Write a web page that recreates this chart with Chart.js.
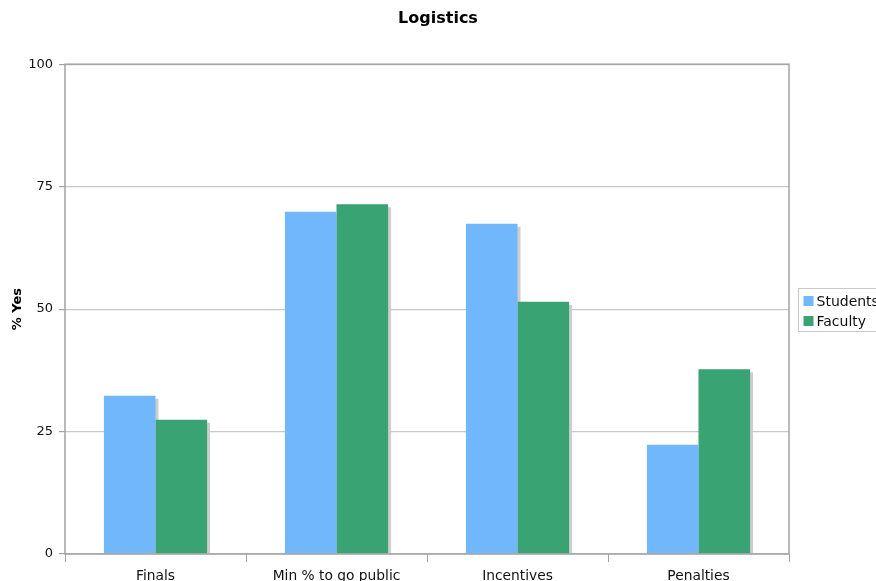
<!DOCTYPE html>
<html>
<head>
<meta charset="utf-8">
<title>Logistics</title>
<script src="https://cdn.jsdelivr.net/npm/chart.js@4/dist/chart.umd.min.js"></script>
<style>
  html, body { margin: 0; padding: 0; background: #fff; }
  #wrap { width: 876px; height: 581px; position: relative; }
</style>
</head>
<body>
<div id="wrap"><canvas id="myChart"></canvas></div>
<script>
// chart values
var categories = ['Finals', 'Min % to go public', 'Incentives', 'Penalties'];
var students = [32.3, 69.9, 67.4, 22.3];
var faculty = [27.4, 71.4, 51.5, 37.7];
var yTicks = [0, 25, 50, 75, 100];

var fontFamily = '"DejaVu Sans", Verdana, sans-serif';

// grey drop shadow behind every bar, drawn before the bars themselves
const barShadow = {
  id: 'barShadow',
  beforeDatasetsDraw(chart) {
    const ctx = chart.ctx;
    ctx.save();
    ctx.fillStyle = '#cdcdcd';
    chart.getSortedVisibleDatasetMetas().forEach(meta => {
      meta.data.forEach(bar => {
        const p = bar.getProps(['x', 'y', 'base', 'width'], true);
        const left = p.x - p.width / 2;
        ctx.fillRect(left + 3, p.y + 3, p.width, p.base - p.y - 3);
      });
    });
    ctx.restore();
  }
};

// frame round the plot and the boxed legend on the right
const frameAndLegend = {
  id: 'frameAndLegend',
  afterDraw(chart) {
    const ctx = chart.ctx;
    const a = chart.chartArea;
    ctx.save();
    ctx.strokeStyle = '#a3a3a3';
    ctx.lineWidth = 1.5;
    ctx.strokeRect(a.left, a.top, a.right - a.left, a.bottom - a.top);

    // legend
    const lx = 798.5, ly = 288.5;
    ctx.lineWidth = 1;
    ctx.strokeStyle = '#c8c8c8';
    ctx.strokeRect(lx, ly, 90, 43);
    ctx.font = '14px ' + fontFamily;
    ctx.textBaseline = 'middle';
    chart.data.datasets.forEach((ds, i) => {
      const y = ly + 12.5 + i * 20;
      ctx.fillStyle = ds.backgroundColor;
      ctx.fillRect(lx + 5, y - 5, 10, 10);
      ctx.fillStyle = '#111';
      ctx.fillText(ds.label, lx + 18, y + 1);
    });
    ctx.restore();
  }
};

const data = {
  labels: categories,
  datasets: [
    {
      label: 'Students',
      data: students,
      backgroundColor: '#70b8fb',
      borderWidth: 0
    },
    {
      label: 'Faculty',
      data: faculty,
      backgroundColor: '#3aa374',
      borderWidth: 0
    }
  ]
};

const config = {
  type: 'bar',
  data,
  options: {
    responsive: true,
    maintainAspectRatio: false,
    animation: false,
    layout: { padding: 0 },
    datasets: {
      bar: { categoryPercentage: 0.57, barPercentage: 1.0 }
    },
    plugins: {
      legend: { display: false },
      tooltip: { enabled: false },
      title: {
        display: true,
        text: 'Logistics',
        color: '#000',
        font: { family: fontFamily, size: 16, weight: 'bold' },
        padding: { top: 9, bottom: 36 }
      }
    },
    scales: {
      x: {
        offset: true,
        grid: {
          offset: true,
          drawOnChartArea: false,
          drawTicks: true,
          tickLength: 8,
          color: '#a3a3a3'
        },
        border: { display: false },
        ticks: {
          color: '#111',
          padding: 6,
          font: { family: fontFamily, size: 13.8 },
          maxRotation: 0
        },
        afterFit(scale) { scale.height = 27; }
      },
      y: {
        min: 0,
        max: 100,
        afterBuildTicks(scale) {
          scale.ticks = yTicks.map(v => ({ value: v }));
        },
        grid: {
          color: '#c8c8c8',
          lineWidth: 1.2,
          tickLength: 6,
          tickColor: '#a3a3a3'
        },
        border: { display: false },
        ticks: {
          color: '#111',
          padding: 6,
          font: { family: fontFamily, size: 13 }
        },
        title: {
          display: true,
          text: '% Yes',
          color: '#000',
          font: { family: fontFamily, size: 13, weight: 'bold' },
          padding: { top: 10, bottom: 0 }
        },
        afterFit(scale) { scale.width = 65; }
      },
      // empty right-hand strip that holds the legend
      legendSpace: {
        type: 'linear',
        position: 'right',
        min: 0,
        max: 100,
        grid: { display: false },
        border: { display: false },
        ticks: { display: false },
        afterFit(scale) { scale.width = 87; }
      }
    }
  },
  plugins: [barShadow, frameAndLegend]
};

document.addEventListener('DOMContentLoaded', () => {
  myChart = new Chart(document.getElementById('myChart'), config);
});
</script>
</body>
</html>
